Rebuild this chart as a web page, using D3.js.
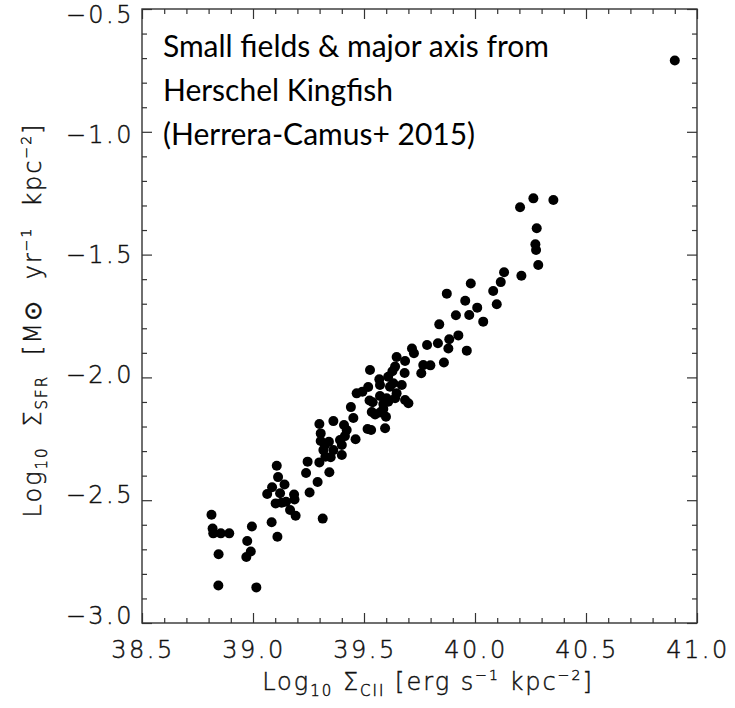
<!DOCTYPE html>
<html><head><meta charset="utf-8">
<script src="https://cdn.jsdelivr.net/npm/d3@7"></script>
<style>body{margin:0;background:#fff}</style>
</head><body><svg id="c" width="735" height="708"></svg>
<script>
const xValues=[38.813,38.818,38.821,38.855,38.893,38.845,38.844,39.015,38.995,38.974,38.990,38.970,39.084,39.110,39.102,39.107,39.113,39.142,39.086,39.064,39.122,39.185,39.187,39.129,39.149,39.167,39.192,
39.246,39.239,39.291,39.255,39.314,39.344,39.299,39.326,39.317,39.350,39.324,39.305,39.342,39.362,39.400,39.392,39.400,39.305,39.299,39.362,39.410,39.422,39.414,39.462,39.452,39.441,39.467,39.493,39.519,39.525,39.539,39.516,39.532,39.595,39.535,39.550,39.572,39.587,39.599,39.572,39.602,39.609,39.640,39.572,39.617,39.587,39.569,39.527,39.609,39.628,39.632,39.640,39.647,39.647,39.685,39.700,39.670,39.683,39.685,39.725,39.716,39.758,39.767,39.799,39.784,39.833,
39.884,39.880,39.860,39.925,39.963,39.839,39.914,39.974,40.037,40.010,39.956,39.873,39.981,40.082,40.098,40.116,40.131,40.209,40.285,40.275,40.272,40.278,40.203,40.263,40.353,40.90];
const yValues=[-2.559,-2.615,-2.635,-2.635,-2.635,-2.720,-2.847,-2.855,-2.607,-2.666,-2.709,-2.731,-2.590,-2.649,-2.513,-2.360,-2.406,-2.436,-2.447,-2.475,-2.472,-2.477,-2.497,-2.510,-2.506,-2.540,-2.563,
-2.343,-2.389,-2.426,-2.469,-2.575,-2.386,-2.346,-2.323,-2.296,-2.325,-2.275,-2.259,-2.262,-2.296,-2.316,-2.255,-2.275,-2.228,-2.190,-2.178,-2.194,-2.214,-2.239,-2.252,-2.165,-2.121,-2.065,-2.058,-2.039,-2.094,-2.101,-2.210,-2.214,-2.207,-2.141,-2.151,-2.143,-2.129,-2.160,-2.076,-2.085,-2.099,-2.085,-2.031,-2.038,-2.108,-2.008,-1.970,-1.997,-1.975,-2.024,-1.956,-1.917,-2.065,-2.092,-2.105,-2.031,-1.982,-1.933,-1.902,-1.882,-1.983,-1.950,-1.951,-1.868,-1.861,
-1.845,-1.882,-1.939,-1.829,-1.891,-1.784,-1.747,-1.746,-1.773,-1.716,-1.688,-1.659,-1.618,-1.648,-1.702,-1.612,-1.572,-1.586,-1.542,-1.481,-1.458,-1.393,-1.307,-1.271,-1.278,-0.71];
const xTickValues=[38.5,39.0,39.5,40.0,40.5,41.0];
const yTickValues=[-3.0,-2.5,-2.0,-1.5,-1.0,-0.5];
const titleLines=["Small fields & major axis from","Herschel Kingfish","(Herrera-Camus+ 2015)"];

const svg=d3.select("#c");
const L=142,R=697,T=9,B=623;
const x=d3.scaleLinear().domain([38.5,41.0]).range([L,R]);
const y=d3.scaleLinear().domain([-3.0,-0.5]).range([B,T]);
const fmt=v=>(v<0?"\u2212":"")+Math.abs(v).toFixed(1);

const xMinor=d3.range(385,411).map(v=>v/10).filter(v=>!xTickValues.some(t=>Math.abs(t-v)<1e-6));
const yMinor=d3.range(-30,-4).map(v=>v/10).filter(v=>!yTickValues.some(t=>Math.abs(t-v)<1e-6));

function styleAxis(g){g.select(".domain").remove();g.selectAll("line").attr("stroke","#333").attr("stroke-width",1.2);g.selectAll("text").remove();}
const maj=10,mnr=5;
svg.append("g").attr("transform",`translate(0,${B})`).call(d3.axisBottom(x).tickValues(xTickValues).tickSize(-maj)).call(styleAxis);
svg.append("g").attr("transform",`translate(0,${B})`).call(d3.axisBottom(x).tickValues(xMinor).tickSize(-mnr)).call(styleAxis);
svg.append("g").attr("transform",`translate(0,${T})`).call(d3.axisTop(x).tickValues(xTickValues).tickSize(-maj)).call(styleAxis);
svg.append("g").attr("transform",`translate(0,${T})`).call(d3.axisTop(x).tickValues(xMinor).tickSize(-mnr)).call(styleAxis);
svg.append("g").attr("transform",`translate(${L},0)`).call(d3.axisLeft(y).tickValues(yTickValues).tickSize(-maj)).call(styleAxis);
svg.append("g").attr("transform",`translate(${L},0)`).call(d3.axisLeft(y).tickValues(yMinor).tickSize(-mnr)).call(styleAxis);
svg.append("g").attr("transform",`translate(${R},0)`).call(d3.axisRight(y).tickValues(yTickValues).tickSize(-maj)).call(styleAxis);
svg.append("g").attr("transform",`translate(${R},0)`).call(d3.axisRight(y).tickValues(yMinor).tickSize(-mnr)).call(styleAxis);

svg.append("rect").attr("x",L).attr("y",T).attr("width",R-L).attr("height",B-T)
  .attr("fill","none").attr("stroke","#333").attr("stroke-width",1.4);

const tickFont={"font-family":"DejaVu Sans","font-size":"24px","font-weight":"200","letter-spacing":"2.5px","fill":"#111","stroke":"#111","stroke-width":"0.45"};
function applyFont(sel,f){Object.entries(f).forEach(([k,v])=>sel.attr(k,v));return sel;}

applyFont(svg.append("g").selectAll("text").data(yTickValues).join("text")
  .attr("x",L-8).attr("y",d=>y(d)+5+(-0.5-d)*(-13/2.5)+8.5)
  .attr("text-anchor","end").text(fmt),tickFont);
applyFont(svg.append("g").selectAll("text").data(xTickValues).join("text")
  .attr("x",d=>x(d)+1).attr("y",658)
  .attr("text-anchor","middle").text(fmt),tickFont);

// points
svg.append("g").selectAll("circle").data(d3.zip(xValues,yValues)).join("circle")
  .attr("cx",d=>x(d[0])).attr("cy",d=>y(d[1])).attr("r",5.0).attr("fill","#000");

// title
svg.append("g").selectAll("text").data(titleLines).join("text")
  .attr("x",163).attr("y",(d,i)=>57+i*44)
  .attr("font-family","Lato").attr("font-size","30px").attr("fill","#000").text(d=>d);

// axis titles
const labFont={"font-family":"DejaVu Sans","font-size":"24px","font-weight":"200","letter-spacing":"2px","fill":"#111","stroke":"#111","stroke-width":"0.45"};
function build(t,parts){parts.forEach(p=>{const s=t.append("tspan").text(p[0]);if(p[1]==="sub")s.attr("font-size","15px").attr("dy","6");if(p[1]==="sup")s.attr("font-size","14px").attr("dy","-10");if(p[2])s.attr("dy",p[2]);});}
function fitWidth(t,target){const n=(t.text().match(/ /g)||[]).length;const len=t.node().getComputedTextLength();t.attr("word-spacing",Math.max(0,(target-len)/n)+"px");}
const xl=applyFont(svg.append("text").attr("x",428).attr("y",690).attr("text-anchor","middle"),labFont);
build(xl,[["Log"],["10","sub"],[" \u03A3","", "-6"],["CII","sub"],[" [erg s","", "-6"],["\u22121","sup"],[" kpc","", "10"],["\u22122","sup"],["]","", "10"]]);
fitWidth(xl,318);
const yl=applyFont(svg.append("text").attr("transform",`translate(41,320) rotate(-90)`).attr("text-anchor","middle"),labFont);
build(yl,[["Log"],["10","sub"],[" \u03A3","", "-6"],["SFR","sub"],[" [M\u2299 yr","", "-6"],["\u22121","sup"],[" kpc","", "10"],["\u22122","sup"],["]","", "10"]]);
fitWidth(yl,395);
</script></body></html>
